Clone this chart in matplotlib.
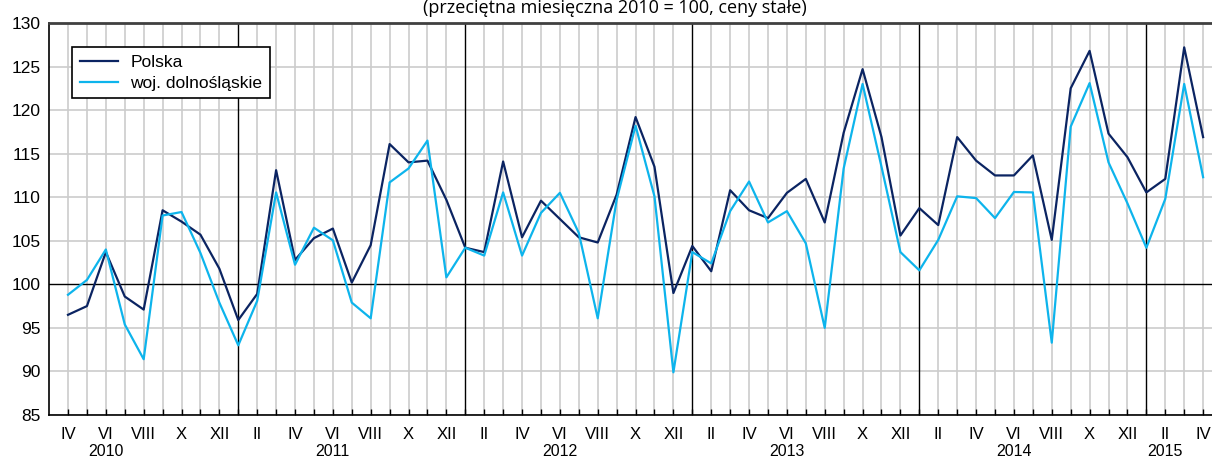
import matplotlib.pyplot as plt

# --- data: monthly index, IV 2010 .. IV 2015 ---
months = ["IV", "V", "VI", "VII", "VIII", "IX", "X", "XI", "XII"] + \
         ["I", "II", "III", "IV", "V", "VI", "VII", "VIII", "IX", "X", "XI", "XII"] * 4 + \
         ["I", "II", "III", "IV"]

polska = [96.5, 97.5, 103.7, 98.6, 97.1, 108.5, 107.2, 105.7, 101.8,
          95.9, 98.9, 113.1, 102.8, 105.3, 106.4, 100.2, 104.5, 116.1, 114.0, 114.2, 109.7,
          104.2, 103.7, 114.1, 105.4, 109.6, 107.5, 105.4, 104.8, 110.3, 119.2, 113.5, 99.0,
          104.4, 101.5, 110.8, 108.5, 107.6, 110.5, 112.1, 107.1, 117.4, 124.7, 116.9, 105.6,
          108.75, 106.8, 116.9, 114.2, 112.5, 112.5, 114.8, 105.1, 122.5, 126.8, 117.3, 114.6,
          110.55, 112.1, 127.2, 116.9]

dolnoslaskie = [98.8, 100.5, 104.0, 95.4, 91.4, 107.9, 108.3, 103.6, 97.9,
                93.0, 98.1, 110.55, 102.25, 106.5, 105.05, 97.9, 96.1, 111.7, 113.3, 116.5, 100.8,
                104.2, 103.3, 110.55, 103.3, 108.2, 110.5, 105.9, 96.1, 109.7, 118.2, 110.1, 89.9,
                103.7, 102.4, 108.4, 111.8, 107.1, 108.4, 104.7, 95.0, 113.3, 123.0, 113.5, 103.7,
                101.6, 105.1, 110.1, 109.9, 107.6, 110.6, 110.55, 93.3, 118.1, 123.1, 114.0, 109.3,
                104.2, 109.8, 123.0, 112.3]

years = ["2010", "2011", "2012", "2013", "2014", "2015"]
year_label_pos = [2, 14, 26, 38, 50, 58]   # under VI (II for 2015)

x = list(range(len(months)))

plt.rcParams['font.family'] = ['Liberation Sans', 'DejaVu Sans']

fig = plt.figure(figsize=(12.12, 4.59), dpi=100)
ax = fig.add_axes([0.0405, 0.0959, 0.9595, 0.854])

# grid
for xi in x:
    if months[xi] == "I":
        ax.axvline(xi, color="black", lw=1.0, zorder=1)
    else:
        ax.axvline(xi, color="#cccccc", lw=1.2, zorder=0)
for yv in range(85, 131, 5):
    if yv == 100:
        ax.axhline(yv, color="black", lw=1.0, zorder=1)
    else:
        ax.axhline(yv, color="#cccccc", lw=1.2, zorder=0)

ax.plot(x, polska, color="#0b2462", lw=1.6, label="Polska", zorder=3)
ax.plot(x, dolnoslaskie, color="#0db4ec", lw=1.6, label="woj. dolnośląskie", zorder=3)

ax.set_xlim(-1, 60.47)
ax.set_ylim(85, 130)
ax.set_yticks(range(85, 131, 5))
ax.tick_params(axis="y", length=0, labelsize=12.5, pad=6)

ax.set_xticks(x)
ax.set_xticklabels([m if i % 2 == 0 else "" for i, m in enumerate(months)], fontsize=12)
ax.tick_params(axis="x", direction="in", length=4, width=1, pad=9)

for pos, yr in zip(year_label_pos, years):
    ax.text(pos, -0.075, yr, transform=ax.get_xaxis_transform(), ha="center", va="top", fontsize=11.5)

ax.spines["right"].set_visible(False)
ax.spines["top"].set_color("#404040")
ax.spines["top"].set_linewidth(2)
ax.spines["left"].set_linewidth(1.2)
ax.spines["bottom"].set_linewidth(1.2)

leg = ax.legend(loc="upper left", bbox_to_anchor=(0.0198, 0.939), borderaxespad=0, fontsize=12.5,
                frameon=True, fancybox=False, edgecolor="black", framealpha=1, handlelength=2.2,
                borderpad=0.45, labelspacing=0.32, handletextpad=0.7)
leg.get_frame().set_linewidth(1.2)

fig.text(0.507, 0.982, "(przeciętna miesięczna 2010 = 100, ceny stałe)", ha="center", va="center",
         fontsize=13, family=["Open Sans", "DejaVu Sans"])

fig.savefig("out.png", dpi=100)
